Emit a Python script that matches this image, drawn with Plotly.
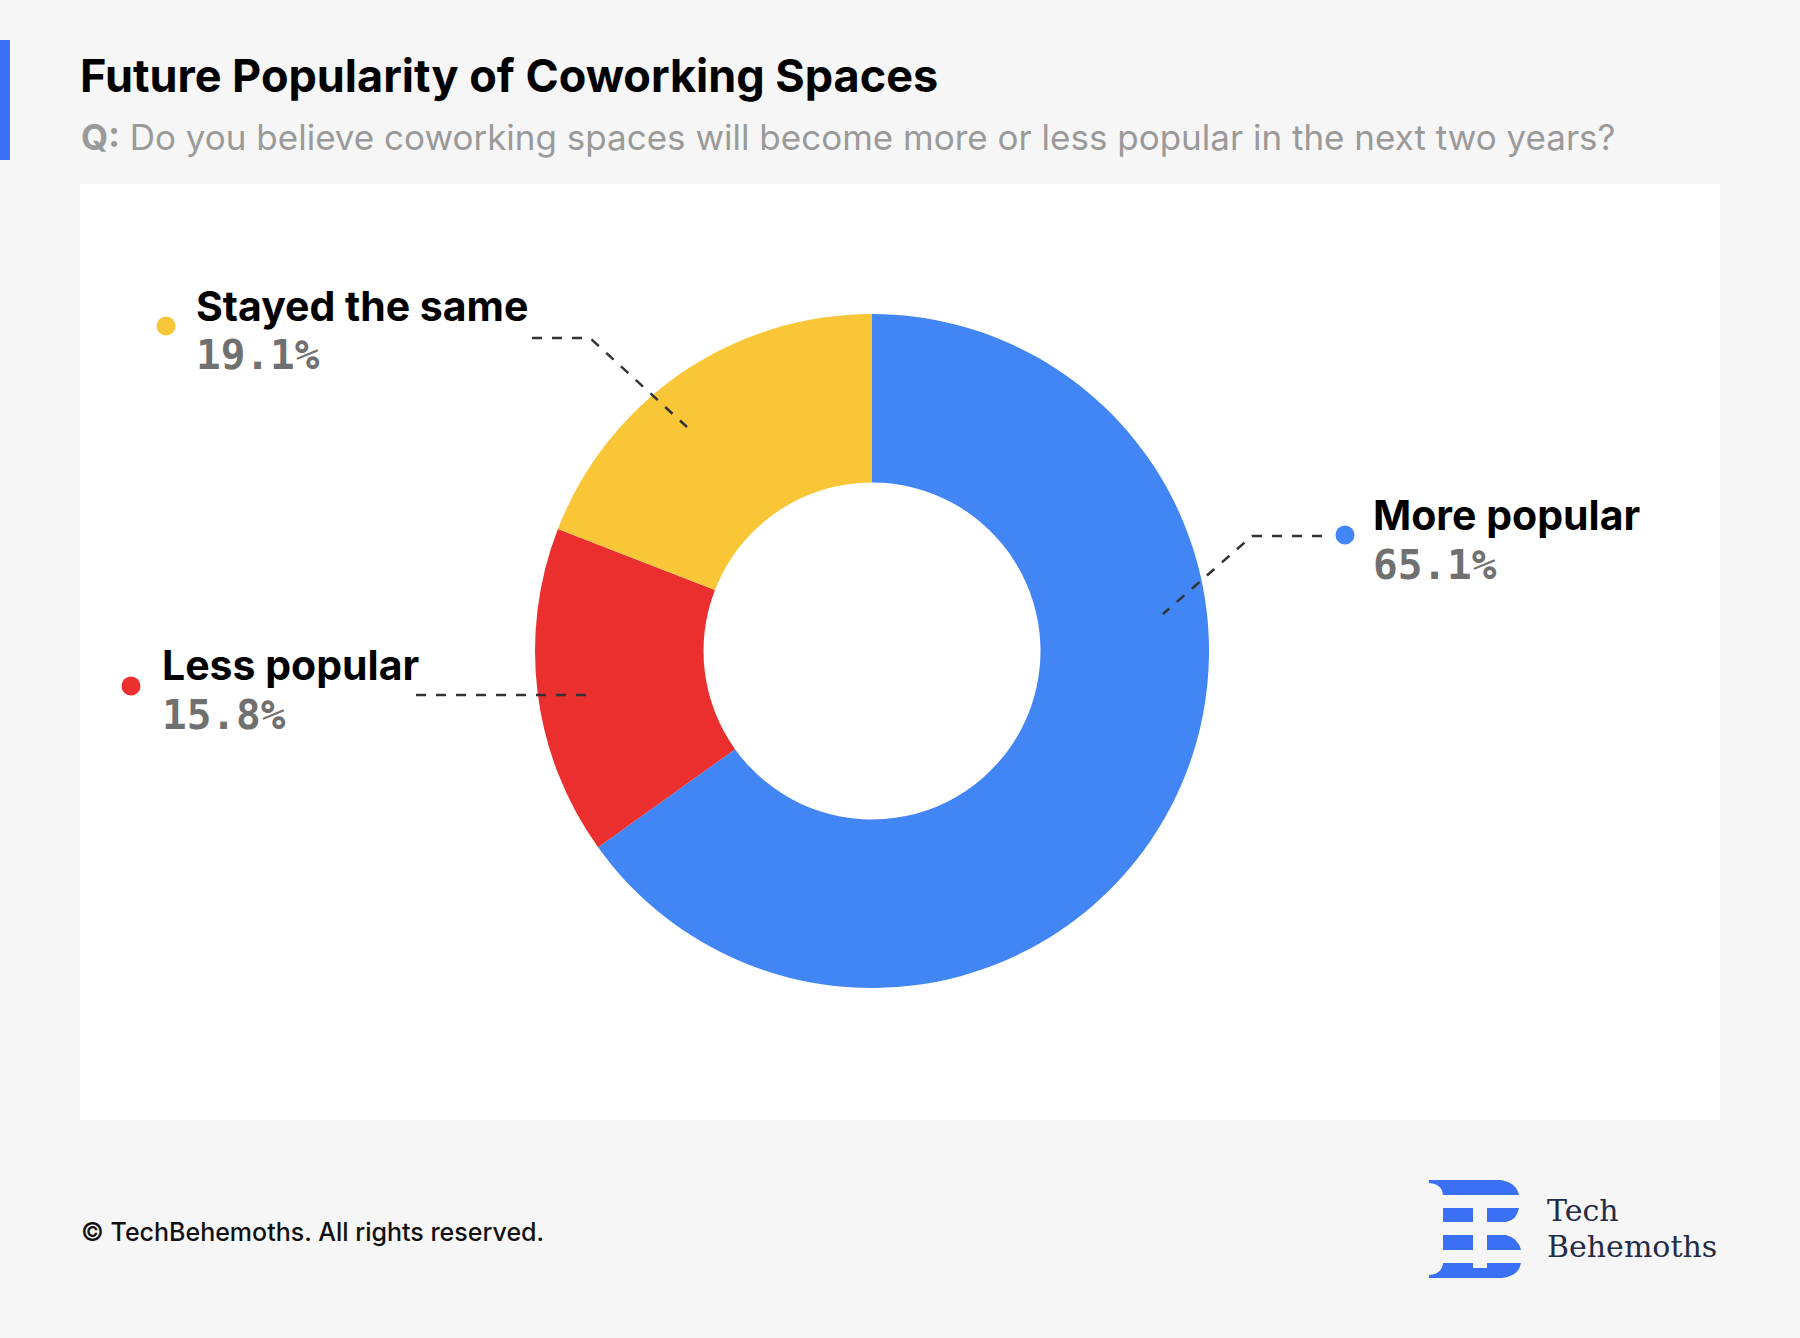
import plotly.graph_objects as go

W, H = 1800, 1338

# ---- data ----
categories = ["More popular", "Less popular", "Stayed the same"]
values = [65.1, 15.8, 19.1]
value_labels = ["65.1%", "15.8%", "19.1%"]
colors = ["#4285F4", "#EB2F2F", "#F9C637"]

title = "Future Popularity of Coworking Spaces"
subtitle = "Do you believe coworking spaces will become more or less popular in the next two years?"
footer = "© TechBehemoths. All rights reserved."


def px(x):
    return x / W


def py(y):
    return 1 - y / H


# donut geometry (pixels)
CX, CY, R = 872, 651, 337

fig = go.Figure()
fig.add_trace(go.Pie(
    labels=categories,
    values=values,
    marker=dict(colors=colors, line=dict(width=0)),
    hole=0.5,
    sort=False,
    direction="clockwise",
    rotation=0,
    textinfo="none",
    hoverinfo="skip",
    showlegend=False,
    domain=dict(x=[px(CX - R), px(CX + R)], y=[py(CY + R), py(CY - R)]),
))

shapes = []
# white panel
shapes.append(dict(type="rect", xref="paper", yref="paper", layer="below",
                   x0=px(80), x1=px(1720), y0=py(1120), y1=py(184),
                   fillcolor="white", line=dict(width=0)))
# left accent bar
shapes.append(dict(type="rect", xref="paper", yref="paper", layer="below",
                   x0=px(0), x1=px(10), y0=py(160), y1=py(40),
                   fillcolor="#3B70F5", line=dict(width=0)))

# label layout: (dot x, dot y, text x, name y, pct y, leader points)
label_layout = {
    "More popular": (1345, 535, 1371, 515, 565, [(1322, 536), (1252, 536), (1163, 614)]),
    "Less popular": (131, 686, 160, 665, 715, [(416, 695), (586, 695)]),
    "Stayed the same": (166, 326, 194, 306, 355, [(532, 338), (590, 338), (687, 427)]),
}

annotations = []
for cat, val_lbl, col in zip(categories, value_labels, colors):
    dx, dy, tx, ny, pyy, pts = label_layout[cat]
    r = 9.5
    shapes.append(dict(type="circle", xref="paper", yref="paper",
                       x0=px(dx - r), x1=px(dx + r), y0=py(dy + r), y1=py(dy - r),
                       fillcolor=col, line=dict(width=0)))
    d = "M" + " L".join(f"{px(x):.5f},{py(y):.5f}" for x, y in pts)
    shapes.append(dict(type="path", xref="paper", yref="paper", path=d,
                       line=dict(color="#333333", width=2.5, dash="10px,10px")))
    annotations.append(dict(x=px(tx), y=py(ny), xref="paper", yref="paper",
                            text=f"<b>{cat}</b>", showarrow=False,
                            xanchor="left", yanchor="middle",
                            font=dict(family="Inter", size=41, color="#000000")))
    annotations.append(dict(x=px(tx), y=py(pyy), xref="paper", yref="paper",
                            text=f"<b>{val_lbl}</b>", showarrow=False,
                            xanchor="left", yanchor="middle",
                            font=dict(family="DejaVu Sans Mono", size=41, color="#707070")))

# title + subtitle
annotations.append(dict(x=px(78), y=py(75), xref="paper", yref="paper",
                        text=f"<b>{title}</b>", showarrow=False,
                        xanchor="left", yanchor="middle",
                        font=dict(family="Inter", size=45, color="#000000")))
annotations.append(dict(x=px(79), y=py(137), xref="paper", yref="paper",
                        text=f"<b>Q:</b> {subtitle}", showarrow=False,
                        xanchor="left", yanchor="middle",
                        font=dict(family="Inter", size=35, color="#9A9A9A")))
# footer
annotations.append(dict(x=px(79), y=py(1232), xref="paper", yref="paper",
                        text=footer, showarrow=False,
                        xanchor="left", yanchor="middle",
                        font=dict(family="Inter", size=25, color="#111111", weight=500)))

# logo text
annotations.append(dict(x=px(1545), y=py(1210), xref="paper", yref="paper",
                        text="Tech", showarrow=False, xanchor="left", yanchor="middle",
                        font=dict(family="DejaVu Serif", size=30, color="#232B45")))
annotations.append(dict(x=px(1545), y=py(1246), xref="paper", yref="paper",
                        text="Behemoths", showarrow=False, xanchor="left", yanchor="middle",
                        font=dict(family="DejaVu Serif", size=30, color="#232B45")))

# logo mark (stylised B)
LB = "#3B70F5"
logo_paths = [
    [("M", [(1429, 1180)]), ("L", [(1500, 1180)]), ("Q", [(1516, 1182), (1519, 1195)]),
     ("L", [(1443, 1195)]), ("Q", [(1442, 1184), (1429, 1183)]), ("Z", [])],
    [("M", [(1443, 1208)]), ("L", [(1473, 1208)]), ("L", [(1473, 1222)]), ("L", [(1443, 1222)]), ("Z", [])],
    [("M", [(1487, 1208)]), ("L", [(1519, 1208)]), ("Q", [(1517, 1220), (1506, 1222)]),
     ("L", [(1487, 1222)]), ("Z", [])],
    [("M", [(1443, 1235)]), ("L", [(1473, 1235)]), ("L", [(1473, 1250)]), ("L", [(1443, 1250)]), ("Z", [])],
    [("M", [(1487, 1235)]), ("L", [(1506, 1235)]), ("Q", [(1518, 1238), (1521, 1250)]),
     ("L", [(1487, 1250)]), ("Z", [])],
    [("M", [(1443, 1263)]), ("L", [(1473, 1263)]), ("L", [(1473, 1268)]), ("L", [(1487, 1268)]),
     ("L", [(1487, 1263)]), ("L", [(1521, 1263)]), ("Q", [(1519, 1276), (1502, 1278)]),
     ("L", [(1429, 1278)]), ("L", [(1429, 1275)]), ("Q", [(1442, 1274), (1443, 1263)]), ("Z", [])],
]
for p in logo_paths:
    d = " ".join(
        (cmd + " ".join(f"{px(x):.5f},{py(y):.5f}" for x, y in pts)) for cmd, pts in p
    )
    shapes.append(dict(type="path", xref="paper", yref="paper", path=d,
                       fillcolor=LB, line=dict(width=0)))

fig.update_layout(
    width=W, height=H,
    margin=dict(l=0, r=0, t=0, b=0),
    paper_bgcolor="#F6F6F6",
    plot_bgcolor="#F6F6F6",
    shapes=shapes,
    annotations=annotations,
    showlegend=False,
)

fig.write_html(
    "out.html",
    config={"displayModeBar": False},
    post_script="document.body.style.margin='0';document.body.style.background='#F6F6F6';",
)
